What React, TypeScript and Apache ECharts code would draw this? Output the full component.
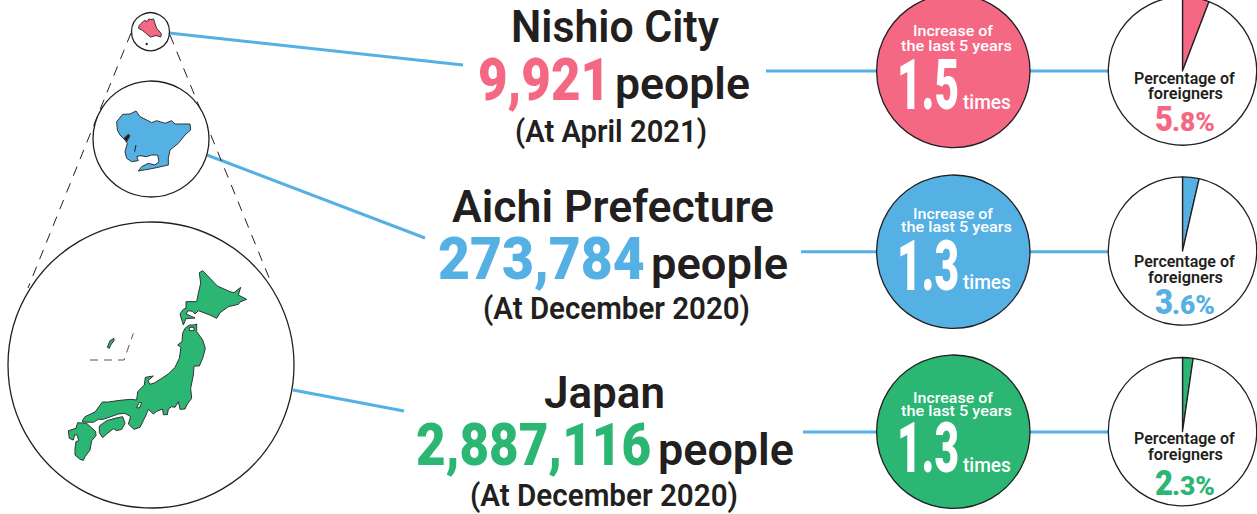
import React, { useEffect, useRef } from "react";
import * as echarts from "echarts";

const placeNames = ["Nishio City", "Aichi Prefecture", "Japan"];
const residents = ["9,921", "273,784", "2,887,116"];
const asOfDates = ["(At April 2021)", "(At December 2020)", "(At December 2020)"];
const growthTimes = ["1.5", "1.3", "1.3"];
const foreignerPercent = [5.8, 3.6, 2.3];
const pctWhole = ["5", "3", "2"];
const pctFraction = [".8%", ".6%", ".3%"];

const PINK = "#f46884";
const BLUE = "#55b0e4";
const GREEN = "#2bb673";
const INK = "#231f20";
const FONT = "Roboto";
const rowColors = [PINK, BLUE, GREEN];

const measureCanvas = document.createElement("canvas").getContext("2d")!;
function txt(text: string, x0: number, x1: number, base: number, size: number, color: string, weight: number | string = 700) {
  measureCanvas.font = `${weight} ${size}px ${FONT}`;
  const w = measureCanvas.measureText(text).width || 1;
  const sx = (x1 - x0) / w;
  return {
    type: "text", z: 20, x: x0, y: base + 0.7 - 0.36 * size, scaleX: sx,
    style: { text, fontFamily: FONT, fontSize: size, fontWeight: weight, fill: color, align: "left", verticalAlign: "middle" },
  };
}
const pts = (p: number[][], ox: number, oy: number, k = 3) => p.map(([x, y]) => [ox + x / k, oy + y / k]);
const poly = (p: number[][], fill: string, stroke = "#333", lw = 1) => ({
  type: "polygon", z: 10, shape: { points: p }, style: { fill, stroke, lineWidth: lw },
});
const ln = (x1: number, y1: number, x2: number, y2: number) => ({
  type: "line", z: 1, shape: { x1, y1, x2, y2 }, style: { stroke: BLUE, lineWidth: 3 },
});
const dash = (x1: number, y1: number, x2: number, y2: number) => ({
  type: "line", z: 1, shape: { x1, y1, x2, y2 }, style: { stroke: INK, lineWidth: 1, lineDash: [10, 8] },
});
const ring = (cx: number, cy: number, r: number, fill = "#fff") => ({
  type: "circle", z: 5, shape: { cx, cy, r }, style: { fill, stroke: INK, lineWidth: 1.3 },
});

const hokkaido = [[598,188],[608,182],[630,205],[652,228],[690,245],[702,248],[722,232],[715,255],[740,268],[720,276],[715,283],[685,290],[660,308],[650,325],[630,315],[595,302],[585,312],[578,304],[564,302],[558,312],[572,318],[585,324],[558,326],[550,345],[540,312],[550,298],[558,295],[558,275],[590,275],[595,250],[602,220]];
const honshu = [[555,355],[568,345],[580,345],[590,342],[590,365],[608,390],[616,415],[608,445],[598,468],[582,468],[580,495],[572,535],[575,565],[562,582],[555,597],[540,598],[535,575],[525,592],[515,590],[505,597],[502,614],[490,614],[488,597],[470,604],[460,612],[445,598],[442,605],[438,615],[430,632],[420,652],[402,658],[385,642],[392,620],[375,610],[355,612],[310,628],[295,628],[280,637],[248,636],[248,630],[255,620],[285,606],[307,576],[325,576],[360,571],[392,568],[410,570],[413,545],[433,525],[436,502],[460,498],[444,512],[450,523],[465,518],[505,492],[525,472],[538,445],[543,412],[533,405],[546,395],[548,370]];
const shikoku = [[298,648],[320,632],[345,625],[368,620],[375,640],[365,658],[350,662],[340,656],[320,672],[308,683],[298,668]];
const kyushu = [[205,662],[228,655],[233,638],[260,640],[287,665],[288,677],[275,692],[270,720],[255,740],[250,751],[240,748],[225,735],[225,715],[228,695],[236,692],[232,676],[224,674],[220,690],[208,685]];
const okinawa = [[322,412],[330,392],[342,385],[342,392],[332,405],[328,415]];
const biwa = [[418,577],[425,578],[418,594],[410,593]];
const mutsu = [[568,352],[582,352],[582,362],[568,362]];
const aichi = [[20,65],[38,43],[60,42],[78,33],[90,50],[110,60],[125,68],[140,62],[165,70],[185,62],[195,72],[240,72],[242,90],[225,105],[205,130],[180,150],[175,175],[175,195],[130,205],[85,213],[95,200],[115,190],[135,195],[147,185],[143,165],[125,165],[110,170],[90,167],[80,170],[85,182],[65,185],[50,175],[45,155],[52,130],[45,120],[30,105],[22,90]];
const aichiBlot = [[42,115],[55,103],[60,107],[50,125]];
const aichiGash = [[78,135],[74,155]];
const nishio = [[35,55],[50,40],[60,43],[65,35],[72,37],[80,35],[85,50],[90,65],[105,82],[103,93],[88,88],[70,93],[55,80],[45,72],[32,65]];

const circleCy = [71, 251.7, 431.7];
const pieCy = [71, 251, 431.7];
const CIRCLE_X = 953.3;
const PIE_X = 1182.5;
const rowText = [
  { name: [511, 719, 41.7, 45], num: [478, 610, 100, 59], ppl: [615, 750, 99, 45], date: [515, 707, 141.7, 31] },
  { name: [452, 774, 222, 45], num: [438, 645, 279, 59], ppl: [651, 788, 279, 45], date: [483, 750, 319, 31] },
  { name: [544, 665, 408, 45], num: [416, 651, 465, 59], ppl: [658, 794, 465, 45], date: [470, 738, 506, 31] },
];
const circleBase = [[35, 50.7, 109, 109], [218.7, 232, 290, 289], [402, 416, 472.3, 472]];
const pieBase = [[83.3, 98.7, 130.7], [266.7, 282.7, 314], [443.3, 459.3, 494.7]];

export default function App() {
  const ref = useRef<HTMLDivElement>(null);
  useEffect(() => {
    document.body.style.margin = "0";
    const chart = echarts.init(ref.current!, undefined, { renderer: "svg" });
    const elements: any[] = [
      ln(169, 33, 463, 65), ln(207, 155, 425, 238), ln(293, 390, 404, 411),
      ln(766, 71, 877, 71), ln(1030, 71, 1109, 71),
      ln(801, 251.7, 877, 251.7), ln(1030, 251.7, 1109, 251.7),
      ln(803, 432, 877, 432), ln(1030, 432, 1109, 432),
      dash(131, 33, 28, 288), dash(170, 35, 270, 280),
      ring(151, 365, 143), ring(151, 139, 58), ring(150.5, 31.7, 19),
      poly(pts(hokkaido, 0, 210), GREEN), poly(pts(honshu, 0, 210), GREEN),
      poly(pts(shikoku, 0, 210), GREEN), poly(pts(kyushu, 0, 210), GREEN),
      poly(pts(okinawa, 0, 210), GREEN),
      poly(pts(biwa, 0, 210), "#fff"), poly(pts(mutsu, 0, 210), "#fff"),
      { type: "polyline", z: 10, shape: { points: pts([[270, 450], [372, 450], [400, 370]], 0, 210) }, style: { fill: "none", stroke: "#555", lineWidth: 1, lineDash: [8, 6] } },
      poly(pts(aichi, 110, 100), BLUE), poly(pts(aichiBlot, 110, 100), INK),
      { type: "polyline", z: 11, shape: { points: pts(aichiGash, 110, 100) }, style: { fill: "none", stroke: INK, lineWidth: 1 } },
      poly(pts(nishio, 128.5, 8, 3.2), PINK),
      { type: "circle", z: 10, shape: { cx: 146.7, cy: 44, r: 1.2 }, style: { fill: INK } },
    ];
    placeNames.forEach((name, i) => {
      const r = rowText[i];
      const c = rowColors[i];
      elements.push(ring(CIRCLE_X, circleCy[i], 76.7, c));
      elements.push(txt(name, r.name[0], r.name[1], r.name[2], r.name[3], INK, 600));
      elements.push(txt(residents[i], r.num[0], r.num[1], r.num[2], r.num[3], c, 900));
      elements.push(txt("people", r.ppl[0], r.ppl[1], r.ppl[2], r.ppl[3], INK, 600));
      elements.push(txt(asOfDates[i], r.date[0], r.date[1], r.date[2], r.date[3], INK, 600));
      const b = circleBase[i];
      elements.push(txt("Increase of", 913, 993, b[0], 15.5, "#fff", 500));
      elements.push(txt("the last 5 years", 901, 1012, b[1], 15.5, "#fff", 500));
      elements.push(txt(growthTimes[i], 897, 959, b[2], 70, "#fff", 900));
      elements.push(txt("times", 963, 1011, b[3], 20, "#fff", 500));
      const p = pieBase[i];
      elements.push(txt("Percentage of", 1134, 1234.7, p[0], 16, INK, 600));
      elements.push(txt("foreigners", 1148, 1223, p[1], 16, INK, 600));
      elements.push(txt(pctWhole[i], 1155, 1173, p[2], 35, c, 900));
      elements.push(txt(pctFraction[i], 1172, 1215, p[2], 25, c, 900));
    });
    chart.setOption({
      animation: false,
      backgroundColor: "#fff",
      graphic: { elements },
      series: foreignerPercent.map((v, i) => ({
        type: "pie", z: 3, silent: true, center: [PIE_X, pieCy[i]], radius: [0, 74.2],
        startAngle: 90, clockwise: true, label: { show: false }, labelLine: { show: false },
        itemStyle: { borderColor: INK, borderWidth: 1.3 },
        data: [
          { value: v, name: "foreigners", itemStyle: { color: rowColors[i] } },
          { value: 100 - v, name: "others", itemStyle: { color: "#fff" } },
        ],
      })),
    });
    return () => chart.dispose();
  }, []);
  return <div ref={ref} style={{ position: "absolute", left: 0, top: 0, width: 1257, height: 514 }} />;
}
